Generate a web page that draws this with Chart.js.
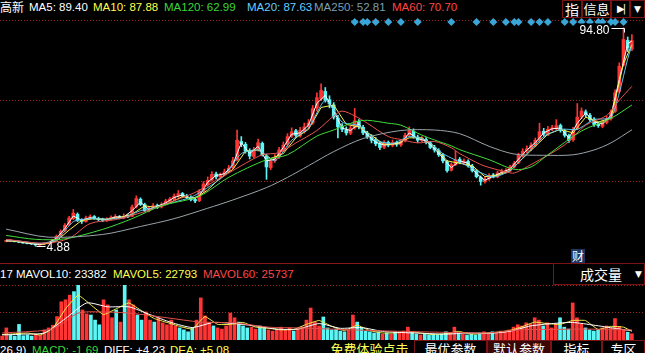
<!DOCTYPE html>
<html>
<head>
<meta charset="utf-8">
<script src="https://cdn.jsdelivr.net/npm/chart.js@4/dist/chart.umd.min.js"></script>
<style>
body{margin:0;background:#000;width:645px;height:353px;overflow:hidden;position:relative;font-family:"Liberation Sans",Arial,"Noto Sans CJK SC",sans-serif;}
.t{position:absolute;font-size:11.5px;line-height:14px;white-space:nowrap;}
.dot{position:absolute;left:0;width:645px;height:1px;background:repeating-linear-gradient(to right,#a02828 0 1px,transparent 1px 3px);}
.box{position:absolute;border:1px solid #7a1414;color:#fff;font-size:13px;line-height:16px;text-align:center;box-sizing:border-box;white-space:nowrap;overflow:hidden;font-family:"Noto Sans CJK SC",sans-serif;}
canvas{position:absolute;left:0;}
</style>
</head>
<body>

<!-- price header -->
<span class="t" style="left:0;top:0;color:#fff;font-family:'Noto Sans CJK SC';font-size:12px">高新</span>
<span class="t" style="left:29px;top:0;color:#fff">MA5: 89.40</span>
<span class="t" style="left:93px;top:0;color:#ffff4a">MA10: 87.88</span>
<span class="t" style="left:164px;top:0;color:#3ad83a">MA120: 62.99</span>
<span class="t" style="left:247px;top:0;color:#66ccff">MA20: 87.63</span>
<span class="t" style="left:314px;top:0;color:#7d9eae">MA250: 52.81</span>
<span class="t" style="left:392px;top:0;color:#ff4646">MA60: 70.70</span>
<div class="box" style="left:562px;top:0;width:20px;height:18px;font-size:14px">指</div>
<div class="box" style="left:582px;top:0;width:29px;height:18px">信息</div>
<div class="box" style="left:611px;top:0;width:19px;height:18px;font-size:10px;letter-spacing:-2px;font-family:'DejaVu Sans'">▶|</div>
<div class="box" style="left:630px;top:0;width:15px;height:18px;font-size:9px;font-family:'DejaVu Sans'">▼</div>

<div class="dot" style="top:20px"></div>
<div class="dot" style="top:100px"></div>
<div class="dot" style="top:181px"></div>
<div style="position:absolute;left:0;top:263px;width:553px;height:1px;background:#8a1616"></div>

<span class="t" style="left:571px;top:249px;color:#fff;background:#1c3664;font-family:'Noto Sans CJK SC';font-size:12px;padding:0 1px">财</span>

<!-- volume header -->
<span class="t" style="left:0;top:267px;color:#fff">17 MAVOL10: 23382</span>
<span class="t" style="left:113px;top:267px;color:#ffff4a">MAVOL5: 22793</span>
<span class="t" style="left:203px;top:267px;color:#ff4646">MAVOL60: 25737</span>
<div class="box" style="left:553px;top:263px;width:92px;height:22px;text-align:left;padding-left:26px;line-height:20px;font-size:14px">成交量<span style="position:absolute;left:81px;font-size:9px;font-family:'DejaVu Sans'">▼</span></div>

<div class="dot" style="top:285px"></div>
<div class="dot" style="top:312px"></div>

<!-- bottom row -->
<span class="t" style="left:0;top:343px;color:#fff">26,9)</span>
<span class="t" style="left:32px;top:343px;color:#3ad83a">MACD: -1.69</span>
<span class="t" style="left:104px;top:343px;color:#fff">DIFF: +4.23</span>
<span class="t" style="left:170px;top:343px;color:#ffff4a">DEA: +5.08</span>
<div class="box" style="left:325px;top:340px;width:89px;height:16px;color:#ffff55;border-color:#000">免费体验点击</div>
<div class="box" style="left:414px;top:340px;width:73px;height:16px">最优参数</div>
<div class="box" style="left:487px;top:340px;width:64px;height:16px;background:#3a0606">默认参数</div>
<div class="box" style="left:551px;top:340px;width:51px;height:16px">指标</div>
<div class="box" style="left:602px;top:340px;width:43px;height:16px">专区</div>

<canvas id="priceChart" width="645" height="249" style="top:14px"></canvas>
<canvas id="volChart" width="645" height="55" style="top:285px"></canvas>

<script>
// CANDLES (one candle per sampled period)

const open = [
  6.8, 7.0, 7.2, 6.8, 6.5, 6.2, 6.0, 5.8, 5.3, 5.6,
  6.0, 6.4, 7.6, 9.2, 11.2, 13.8, 16.2, 18.0, 15.6, 15.0,
  16.4, 17.1, 16.3, 15.9, 15.4, 16.0, 16.7, 17.1, 16.4, 17.3,
  17.2, 21.2, 24.2, 22.0, 19.4, 20.6, 21.6, 21.0, 22.1, 23.4,
  24.2, 25.6, 26.6, 25.4, 25.0, 24.1, 23.6, 27.6, 30.3, 32.2,
  34.6, 33.4, 34.2, 35.6, 37.2, 40.5, 48.0, 46.8, 44.2, 41.8,
  44.8, 47.2, 42.0, 37.2, 40.2, 41.8, 44.2, 46.8, 50.2, 52.4,
  50.4, 52.2, 54.2, 55.6, 61.8, 65.5, 68.6, 65.2, 63.0, 57.6,
  54.2, 52.8, 51.4, 53.6, 56.2, 53.8, 51.4, 49.8, 48.6, 47.2,
  45.6, 47.6, 46.4, 47.6, 46.6, 48.2, 50.6, 52.2, 49.8, 48.4,
  48.8, 47.4, 45.6, 44.2, 42.4, 39.6, 36.2, 38.4, 40.6, 39.2,
  39.8, 37.8, 35.8, 33.2, 31.4, 32.6, 34.2, 33.4, 35.2, 35.4,
  36.0, 37.6, 39.2, 42.4, 44.2, 45.0, 46.4, 48.6, 52.2, 50.8,
  53.2, 53.4, 54.6, 52.2, 50.4, 48.6, 53.2, 58.2, 60.2, 58.8,
  57.2, 55.2, 54.2, 55.8, 57.4, 60.4, 68.6, 79.5, 89.6, 86.0,
];
const close = [
  7.0, 7.2, 6.8, 6.5, 6.2, 6.0, 5.8, 5.4, 5.6, 6.0,
  6.3, 7.5, 9.0, 11.0, 13.5, 16.5, 18.5, 15.5, 15.0, 16.5,
  17.0, 16.2, 15.8, 15.5, 16.0, 16.8, 17.0, 16.5, 17.2, 17.0,
  21.0, 24.5, 22.0, 19.5, 20.5, 21.5, 21.0, 22.0, 23.5, 24.3,
  25.5, 26.5, 25.5, 25.0, 24.0, 23.5, 27.5, 30.5, 32.0, 34.5,
  33.5, 34.0, 35.5, 37.0, 40.0, 48.5, 47.0, 44.0, 42.0, 44.5,
  47.5, 42.5, 37.5, 40.0, 41.5, 44.5, 46.5, 50.0, 52.0, 50.5,
  52.5, 54.0, 55.5, 61.5, 66.0, 69.0, 65.0, 63.5, 58.0, 54.0,
  53.0, 51.5, 53.5, 56.5, 54.0, 51.5, 50.0, 48.5, 47.0, 45.5,
  47.5, 46.5, 47.5, 46.8, 48.0, 50.5, 52.5, 50.0, 48.5, 49.0,
  47.5, 45.5, 44.5, 42.5, 40.0, 36.0, 38.5, 40.5, 39.5, 40.0,
  38.0, 36.0, 33.5, 31.5, 32.5, 34.0, 33.5, 35.0, 35.5, 36.0,
  37.5, 39.0, 42.5, 44.0, 45.0, 46.5, 48.5, 52.0, 51.0, 53.0,
  53.5, 54.5, 52.5, 50.5, 48.5, 53.0, 58.0, 60.5, 59.0, 57.0,
  55.0, 54.5, 56.0, 57.5, 60.0, 68.0, 79.0, 90.0, 86.5, 89.5,
];
const high = [
  7.4, 7.6, 7.3, 7.0, 6.7, 6.4, 6.2, 5.9, 5.9, 6.3,
  6.6, 7.8, 9.5, 11.6, 14.2, 17.2, 20.0, 18.6, 16.2, 17.3,
  17.8, 17.5, 16.8, 16.4, 16.6, 17.4, 17.9, 17.5, 18.2, 17.8,
  21.8, 25.6, 24.8, 22.6, 21.2, 22.4, 22.2, 22.8, 24.2, 25.0,
  26.4, 27.8, 27.0, 26.2, 25.6, 24.8, 28.2, 31.5, 33.4, 35.6,
  35.4, 35.0, 36.6, 38.2, 41.5, 52.7, 50.0, 47.6, 45.0, 45.6,
  49.0, 47.8, 42.8, 41.0, 42.6, 45.6, 47.8, 51.2, 53.6, 53.0,
  53.8, 55.6, 57.0, 62.8, 68.0, 71.7, 70.2, 66.8, 64.0, 58.8,
  55.4, 54.0, 54.4, 61.6, 57.0, 54.6, 52.2, 50.8, 49.6, 48.0,
  48.4, 48.2, 48.6, 48.2, 48.8, 51.4, 54.0, 53.2, 50.6, 50.0,
  49.6, 48.0, 46.4, 45.0, 43.0, 40.2, 39.2, 44.0, 41.4, 40.8,
  40.4, 38.6, 36.4, 33.8, 33.4, 34.8, 34.8, 35.8, 36.6, 36.8,
  38.2, 39.8, 43.2, 45.0, 46.2, 47.4, 49.4, 55.5, 53.4, 54.2,
  54.6, 57.0, 55.2, 53.0, 51.0, 53.8, 63.6, 61.8, 61.0, 59.6,
  57.8, 56.0, 56.8, 58.4, 61.0, 69.2, 80.4, 94.8, 91.0, 92.0,
];
const low = [
  6.6, 6.8, 6.6, 6.3, 6.0, 5.8, 5.6, 4.88, 5.2, 5.5,
  5.8, 6.2, 7.4, 8.9, 10.8, 13.4, 15.8, 15.0, 14.2, 14.8,
  16.0, 15.9, 15.4, 15.0, 15.1, 15.8, 16.3, 16.1, 16.2, 16.6,
  17.0, 20.6, 21.6, 19.0, 19.0, 20.2, 20.4, 20.6, 21.8, 23.0,
  23.8, 25.0, 25.0, 24.4, 23.5, 22.8, 23.2, 27.0, 29.6, 31.6,
  32.6, 32.6, 33.8, 35.0, 36.8, 40.0, 45.8, 43.2, 40.8, 41.2,
  44.0, 42.0, 32.4, 36.4, 39.4, 41.0, 43.8, 46.0, 49.6, 49.8,
  49.8, 51.4, 53.2, 55.0, 60.6, 64.8, 64.2, 61.8, 57.2, 49.4,
  52.0, 50.6, 50.8, 53.0, 53.2, 50.8, 49.2, 47.4, 46.2, 44.6,
  45.0, 45.8, 45.8, 46.0, 46.0, 47.8, 50.0, 49.4, 47.6, 47.8,
  47.0, 45.0, 43.6, 41.8, 39.2, 35.3, 35.8, 38.0, 38.8, 38.6,
  37.4, 35.4, 33.0, 30.0, 30.8, 32.0, 33.0, 33.0, 34.6, 34.8,
  35.6, 37.0, 38.8, 41.6, 43.4, 44.2, 45.8, 48.0, 50.2, 50.4,
  52.4, 52.8, 51.8, 49.8, 47.6, 48.0, 52.8, 57.4, 58.2, 56.2,
  54.2, 53.8, 53.6, 55.2, 56.8, 60.0, 68.0, 79.0, 85.0, 85.4,
];

const volume = [
  10000, 31000, 12000, 10000, 40000, 11000, 13000, 10000, 15000, 12000,
  26000, 31000, 38000, 60000, 98000, 103000, 115000, 124000, 141000, 77000,
  67000, 64000, 51000, 39000, 103000, 90000, 57000, 77000, 46000, 141000,
  103000, 90000, 64000, 51000, 72000, 51000, 46000, 57000, 44000, 39000,
  51000, 36000, 31000, 26000, 21000, 31000, 51000, 108000, 62000, 46000,
  36000, 31000, 28000, 36000, 69000, 57000, 46000, 36000, 31000, 33000,
  28000, 36000, 31000, 26000, 23000, 28000, 33000, 26000, 31000, 23000,
  28000, 33000, 51000, 82000, 46000, 36000, 59000, 31000, 26000, 28000,
  23000, 21000, 26000, 64000, 46000, 31000, 23000, 21000, 18000, 21000,
  15000, 18000, 15000, 21000, 18000, 23000, 33000, 21000, 15000, 13000,
  15000, 13000, 15000, 13000, 15000, 21000, 18000, 33000, 18000, 15000,
  13000, 15000, 13000, 18000, 21000, 18000, 21000, 18000, 23000, 21000,
  26000, 33000, 39000, 36000, 44000, 41000, 57000, 51000, 36000, 44000,
  31000, 41000, 57000, 33000, 28000, 95000, 57000, 41000, 31000, 26000,
  23000, 26000, 31000, 36000, 30000, 55000, 35000, 25000, 20000, 16000,
];

// MOVING AVERAGES, as [candle, value]

const ma5Pts = [
  [0, 7.0], [2, 7.0], [4, 6.4], [6, 5.9], [8, 5.5], [10, 6.2], [12, 8.2], [14, 12.2],
  [16, 17.3], [18, 15.5], [20, 16.6], [22, 16.0], [24, 15.8], [26, 16.9], [28, 16.9],
  [30, 19.5], [32, 23.0], [34, 20.0], [36, 21.3], [38, 22.7], [40, 24.9], [42, 26.0],
  [44, 24.5], [46, 25.5], [48, 31.2], [50, 34.0], [52, 34.7], [54, 38.5], [56, 47.5],
  [58, 43.0], [60, 46.0], [62, 40.0], [64, 40.7], [66, 45.5], [68, 51.0], [70, 51.5],
  [72, 54.7], [74, 63.7], [76, 67.0], [78, 60.7], [80, 53.5], [82, 52.5], [84, 55.2],
  [86, 50.7], [88, 47.7], [90, 46.5], [92, 47.0], [94, 47.4], [96, 51.5], [98, 49.2],
  [100, 48.2], [102, 45.0], [104, 41.2], [106, 37.2], [108, 40.0], [110, 39.0],
  [112, 34.7], [114, 32.0], [116, 33.7], [118, 35.2], [120, 36.7], [122, 40.7],
  [124, 44.5], [126, 47.5], [128, 51.5], [130, 53.2], [132, 53.5], [134, 49.5],
  [136, 55.5], [138, 59.7], [140, 56.0], [142, 55.2], [144, 58.7], [146, 73.5],
  [148, 88.2], [149, 89.4],
];
const ma10Pts = [
  [0, 7.2], [3, 6.8], [6, 6.2], [9, 5.7], [12, 7.0], [15, 11.5], [18, 15.5], [21, 16.2],
  [24, 16.0], [27, 16.6], [30, 18.0], [33, 21.5], [36, 20.8], [39, 22.8], [42, 25.3],
  [45, 24.5], [48, 28.0], [51, 33.0], [54, 36.5], [57, 44.0], [60, 44.5], [63, 41.0],
  [66, 43.0], [69, 49.5], [72, 53.0], [75, 62.0], [78, 63.0], [81, 55.0], [84, 54.0],
  [87, 50.5], [90, 46.8], [93, 47.0], [96, 49.5], [99, 49.5], [102, 46.0], [105, 40.0],
  [108, 39.0], [111, 38.0], [114, 33.5], [117, 34.0], [120, 36.0], [123, 41.0],
  [126, 46.0], [129, 51.0], [132, 53.0], [135, 51.5], [138, 58.0], [141, 56.0],
  [144, 57.5], [147, 80.0], [149, 87.88],
];
const ma20Pts = [
  [0, 7.5], [4, 6.8], [8, 6.0], [12, 7.5], [16, 15.0], [20, 16.2], [24, 16.0], [28, 16.6],
  [32, 19.5], [36, 21.0], [40, 23.0], [44, 25.0], [48, 29.0], [52, 34.0], [56, 43.0],
  [60, 44.5], [64, 40.0], [68, 48.5], [72, 53.5], [76, 65.0], [80, 56.0], [84, 54.5],
  [88, 48.5], [92, 47.2], [96, 50.0], [100, 48.5], [104, 43.0], [108, 39.5], [112, 36.0],
  [116, 33.3], [120, 36.0], [124, 43.0], [128, 50.0], [132, 53.0], [136, 53.0],
  [140, 57.0], [144, 57.8], [146, 68.0], [148, 82.0], [149, 87.63],
];
const ma60Pts = [
  [0, 7.7], [9, 6.1], [15, 8.1], [20, 14.2], [26, 15.8], [33, 19.1], [38, 22.3],
  [45, 27.0], [49, 31.0], [53, 35.0], [57, 39.0], [61, 42.5], [65, 43.4], [69, 47.4],
  [74, 52.5], [78, 58.5], [80, 60.5], [83, 58.5], [86, 55.5], [91, 50.0], [94, 48.8],
  [98, 47.4], [102, 48.0], [106, 45.4], [108, 43.0], [113, 38.5], [115, 37.3],
  [119, 35.5], [121, 35.0], [125, 38.5], [133, 46.6], [138, 54.7], [143, 58.7],
  [146, 65.0], [149, 70.7],
];
const ma120Pts = [
  [0, 9.3], [7, 7.7], [14, 7.9], [23, 11.8], [30, 16.2], [37, 21.5], [44, 24.3],
  [47, 26.3], [53, 33.2], [62, 40.5], [67, 42.5], [74, 50.2], [78, 52.7], [83, 56.0],
  [86, 56.7], [91, 55.5], [94, 54.7], [99, 50.6], [102, 48.6], [106, 46.2], [108, 44.6],
  [115, 40.5], [121, 36.5], [125, 37.5], [129, 42.5], [137, 52.3], [144, 57.5],
  [149, 62.99],
];
const ma250Pts = [
  [0, 11.9], [10, 8.6], [23, 9.7], [32, 13.0], [40, 16.2], [48, 20.5], [54, 23.9],
  [62, 29.0], [67, 33.2], [72, 38.0], [78, 43.8], [85, 49.2], [94, 52.5], [102, 52.7],
  [108, 51.2], [115, 46.0], [121, 42.8], [128, 42.3], [135, 42.5], [140, 44.5],
  [144, 47.4], [149, 52.81],
];

const mavol5Pts = [
  [0, 14000], [3, 16000], [6, 18000], [9, 13000], [12, 30000], [15, 80000], [18, 115000],
  [21, 90000], [24, 65000], [27, 80000], [30, 95000], [33, 75000], [36, 55000],
  [39, 45000], [42, 35000], [45, 28000], [48, 60000], [51, 40000], [54, 40000],
  [57, 45000], [60, 33000], [63, 30000], [66, 26000], [69, 27000], [72, 40000],
  [75, 50000], [78, 35000], [81, 24000], [84, 38000], [87, 24000], [90, 18000],
  [93, 18000], [96, 22000], [99, 18000], [102, 14000], [105, 16000], [108, 22000],
  [111, 15000], [114, 17000], [117, 20000], [120, 24000], [123, 34000], [126, 46000],
  [129, 42000], [132, 40000], [135, 50000], [138, 50000], [141, 27000], [144, 35000],
  [147, 33000], [149, 22793],
];
const mavol10Pts = [
  [0, 13000], [5, 15000], [10, 18000], [15, 55000], [20, 95000], [25, 85000],
  [30, 85000], [35, 65000], [40, 45000], [45, 32000], [50, 45000], [55, 42000],
  [60, 36000], [65, 28000], [70, 28000], [75, 42000], [80, 30000], [85, 32000],
  [90, 22000], [95, 19000], [100, 17000], [105, 15000], [110, 18000], [115, 17000],
  [120, 22000], [125, 36000], [130, 42000], [135, 45000], [140, 38000], [145, 30000],
  [149, 23382],
];
const mavol60Pts = [
  [0, 18000], [11, 26000], [14, 40000], [18, 69000], [23, 72000], [30, 69000],
  [39, 57000], [47, 46000], [55, 44000], [63, 33000], [70, 31000], [78, 28000],
  [88, 24000], [99, 21000], [108, 19000], [115, 18000], [122, 26000], [130, 27000],
  [138, 28000], [149, 25737],
];

// news markers (candles with an info diamond)
const infoDays = [83, 85, 86, 88, 91, 94, 98, 106, 112, 116, 119, 121, 122, 125, 127,
  129, 133, 135, 137, 139, 141, 142, 144, 145, 147];

// ---------------------------------------------------------------

const N = close.length;
const days = close.map((_, i) => String(i + 1));
const UP = "#ff3434";
const DOWN = "#5cf6f6";
const candleColors = close.map((c, i) => (c >= open[i] ? UP : DOWN));

const sparse = (pts) => {
  const a = new Array(N).fill(null);
  pts.forEach(([i, v]) => (a[i] = v));
  return a;
};

const maLine = (label, pts, color, tension) => ({
  type: "line",
  label: label,
  data: sparse(pts),
  borderColor: color,
  borderWidth: 1,
  pointRadius: 0,
  spanGaps: true,
  tension: tension,
  order: 0,
});

const hiLoMarks = {
  id: "hiLoMarks",
  afterDatasetsDraw(chart) {
    const { ctx } = chart;
    const x = chart.scales.x;
    const y = chart.scales.y;
    const hi = Math.max(...high);
    const lo = Math.min(...low);
    const hx = Math.round(x.getPixelForValue(high.indexOf(hi))) + 0.5;
    const hy = Math.round(y.getPixelForValue(hi)) + 0.5;
    const lx = Math.round(x.getPixelForValue(low.indexOf(lo))) + 0.5;
    const ly = Math.round(y.getPixelForValue(lo)) + 0.5;
    ctx.save();
    ctx.strokeStyle = "#fff";
    ctx.fillStyle = "#fff";
    ctx.lineWidth = 1;
    ctx.font = '12px "Liberation Sans", Arial';
    ctx.textBaseline = "middle";
    ctx.fillStyle = "#000";
    ctx.fillRect(hx - 46, hy - 5, 31, 12);
    ctx.fillStyle = "#fff";
    ctx.beginPath();
    ctx.moveTo(hx - 13, hy);
    ctx.lineTo(hx, hy);
    ctx.lineTo(hx, hy + 4);
    ctx.stroke();
    ctx.textAlign = "right";
    ctx.fillText(hi.toFixed(2), hx - 15, hy + 2);
    ctx.beginPath();
    ctx.moveTo(lx, ly);
    ctx.lineTo(lx + 9, ly);
    ctx.stroke();
    ctx.textAlign = "left";
    ctx.fillText(lo.toFixed(2), lx + 10, ly + 1);
    ctx.restore();
  },
};

// PRICE CHART

new Chart(document.getElementById("priceChart"), {
  type: "bar",
  data: {
    labels: days,
    datasets: [
      {
        label: "wick",
        data: low.map((l, i) => [l, high[i]]),
        backgroundColor: candleColors,
        barThickness: 1,
        grouped: false,
        order: 2,
      },
      {
        label: "body",
        data: open.map((o, i) => [o, close[i]]),
        backgroundColor: candleColors,
        barThickness: 3,
        minBarLength: 1,
        grouped: false,
        order: 1,
      },
      maLine("MA250", ma250Pts, "#9aa4aa", 0.3),
      maLine("MA120", ma120Pts, "#42dc3c", 0.3),
      maLine("MA60", ma60Pts, "#e85450", 0.3),
      maLine("MA20", ma20Pts, "#5ec8f0", 0.2),
      maLine("MA10", ma10Pts, "#f4f04a", 0),
      maLine("MA5", ma5Pts, "#ffffff", 0),
      {
        type: "line",
        label: "info",
        data: sparse(infoDays.map((d) => [d, 97.2])),
        showLine: false,
        pointStyle: "rectRot",
        pointRadius: 4,
        pointBackgroundColor: "#3aa6d8",
        pointBorderWidth: 0,
        clip: false,
        order: 0,
      },
    ],
  },
  options: {
    responsive: false,
    animation: false,
    devicePixelRatio: 1,
    layout: { padding: { top: 6, right: 11, left: 0, bottom: 0 } },
    plugins: { legend: { display: false }, tooltip: { enabled: false } },
    scales: {
      x: { display: false },
      y: { display: false, min: -0.4, max: 98 },
    },
  },
  plugins: [hiLoMarks],
});

// VOLUME CHART

new Chart(document.getElementById("volChart"), {
  type: "bar",
  data: {
    labels: days,
    datasets: [
      {
        label: "成交量",
        data: volume,
        backgroundColor: candleColors,
        barThickness: 3,
        order: 1,
      },
      maLine("MAVOL60", mavol60Pts, "#e0504a", 0.3),
      maLine("MAVOL10", mavol10Pts, "#ffffff", 0.2),
      maLine("MAVOL5", mavol5Pts, "#f4f04a", 0.1),
    ],
  },
  options: {
    responsive: false,
    animation: false,
    devicePixelRatio: 1,
    layout: { padding: { top: 0, right: 11, left: 0, bottom: 0 } },
    plugins: { legend: { display: false }, tooltip: { enabled: false } },
    scales: {
      x: { display: false },
      y: { display: false, min: 0, max: 141000 },
    },
  },
});
</script>
</body>
</html>
